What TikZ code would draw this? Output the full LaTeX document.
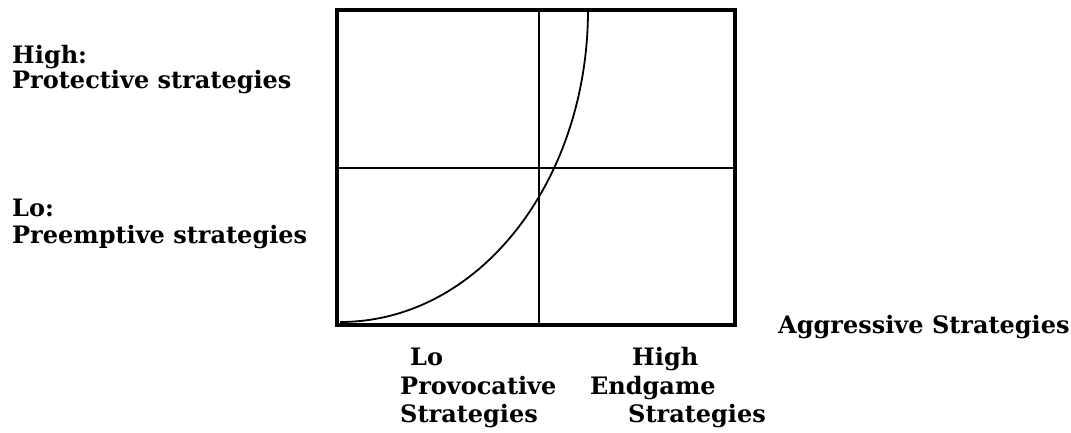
\documentclass[tikz,border=0pt]{standalone}
\usepackage{fontspec}
\setmainfont{DejaVu Serif}
\usetikzlibrary{positioning}

\begin{document}
\begin{tikzpicture}[x=1pt,y=-1pt,
    frame/.style={line width=4.5pt},
    divider/.style={line width=2pt},
    curve/.style={line width=1.8pt},
    lab/.style={font=\fontsize{24}{28}\selectfont\bfseries,
      anchor=base west, inner sep=0pt}
  ]
  \useasboundingbox (0,0) rectangle (1071,432);
  \coordinate (tl) at (337,10);
  \coordinate (br) at (735,325);
  \coordinate (midtop) at (539,10);
  \coordinate (midbot) at (539,325);
  \coordinate (midleft) at (337,168);
  \coordinate (midright) at (735,168);
  \coordinate (cstart) at (340,322);
  \coordinate (cend) at (588,10);
  \draw[divider] (midtop) -- (midbot);
  \draw[divider] (midleft) -- (midright);
  \draw[curve] (cstart) .. controls (480,322) and (588,180) .. (cend);
  \draw[frame] (tl) rectangle (br);
  \node[lab] (hi) at (12,63) {High:};
  \node[lab] (prot) at (12,88) {Protective strategies};
  \node[lab] (lo) at (12,216) {Lo:};
  \node[lab] (pre) at (12,243) {Preemptive strategies};
  \node[lab] (aggr) at (778,333) {Aggressive Strategies};
  \node[lab] (xlo) at (410,365) {Lo};
  \node[lab] (xhi) at (632,365) {High};
  \node[lab] (prov) at (400,394) {Provocative};
  \node[lab] (endg) at (590,394) {Endgame};
  \node[lab] (strat1) at (400,422) {Strategies};
  \node[lab] (strat2) at (628,422) {Strategies};
\end{tikzpicture}
\end{document}
